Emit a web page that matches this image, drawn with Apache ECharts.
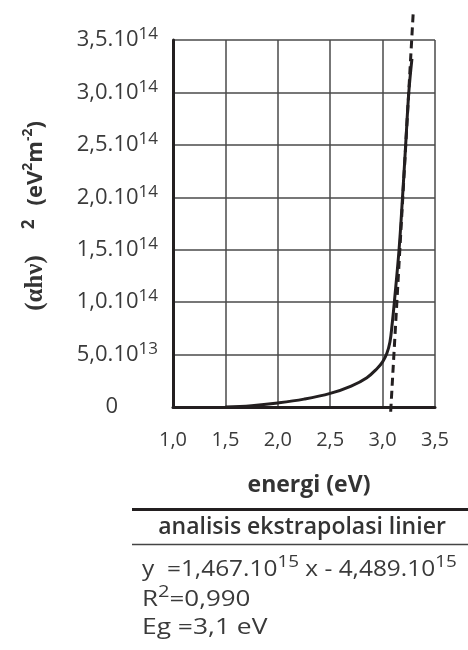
<!DOCTYPE html>
<html>
<head>
<meta charset="utf-8">
<script src="https://cdn.jsdelivr.net/npm/echarts@6/dist/echarts.min.js"></script>
<style>
html, body { margin: 0; padding: 0; background: #fff; }
#chart { width: 468px; height: 650px; }
</style>
</head>
<body>
<div id="chart"></div>
<script>
// data
var energi = [1.5, 1.75, 2.0, 2.25, 2.5, 2.7, 2.85, 2.95, 3.0, 3.04, 3.07, 3.09, 3.112, 3.157, 3.19, 3.22, 3.25, 3.28];
var alphaHv2 = [0, 1.2e12, 3.8e12, 7.5e12, 1.3e13, 2.0e13, 2.8e13, 3.7e13, 4.3e13, 5.1e13, 6.2e13, 7.8e13, 1.0e14, 1.5e14, 2.0e14, 2.5e14, 3.0e14, 3.32e14];
// linear extrapolation (dashed)
var fitEnergi = [3.077, 3.293];
var fitNilai = [-4.5e12, 3.775e14];

var xTickLabels = ['1,0', '1,5', '2,0', '2,5', '3,0', '3,5'];
var yTickBase = ['0', '5,0.10', '1,0.10', '1,5.10', '2,0.10', '2,5.10', '3,0.10', '3,5.10'];
var yTickExp = ['', '13', '14', '14', '14', '14', '14', '14'];

var ink = '#231f20';
var txt = '#3a3a3a';
var sans = '"Open Sans", sans-serif';

var myChart = echarts.init(document.getElementById('chart'));

var curve = energi.map(function (e, i) { return [e, alphaHv2[i]]; });
var fit = fitEnergi.map(function (e, i) { return [e, fitNilai[i]]; });

// superscript-capable rich styles for the results block
var richBlock = {
    b: { fontFamily: sans, fontSize: 22, fill: txt, lineHeight: 32, verticalAlign: 'middle' },
    s: { fontFamily: sans, fontSize: 17, fill: txt, lineHeight: 16, verticalAlign: 'top' }
};

var option = {
    animation: false,
    backgroundColor: '#fff',
    grid: { left: 173, top: 40, width: 262, height: 367 },
    xAxis: {
        type: 'value',
        min: 1,
        max: 3.5,
        interval: 0.5,
        axisLine: { lineStyle: { color: ink, width: 3 } },
        axisTick: { show: false },
        splitLine: { lineStyle: { color: '#4a4a4a', width: 1.5 } },
        axisLabel: {
            margin: 23,
            fontFamily: sans,
            fontSize: 20,
            color: txt,
            formatter: function (v) { return xTickLabels[Math.round((v - 1) / 0.5)]; }
        },
        name: 'energi (eV)',
        nameLocation: 'middle',
        nameGap: 67,
        nameTextStyle: {
            fontFamily: sans, fontSize: 23, fontWeight: 'bold', color: '#333',
            padding: [0, 0, 0, 10]
        }
    },
    yAxis: {
        type: 'value',
        min: 0,
        max: 3.5e14,
        interval: 5e13,
        axisLine: { show: true, lineStyle: { color: ink, width: 3 } },
        axisTick: { show: false },
        splitLine: { lineStyle: { color: '#4a4a4a', width: 1.5 } },
        axisLabel: {
            margin: 15,
            formatter: function (v) {
                var i = Math.round(v / 5e13);
                if (!yTickExp[i]) return '{z|' + yTickBase[i] + '}';
                return '{b|' + yTickBase[i] + '}{s|' + yTickExp[i] + '}';
            },
            rich: {
                b: { fontFamily: sans, fontSize: 22, color: txt, lineHeight: 28, verticalAlign: 'middle' },
                s: { fontFamily: sans, fontSize: 17, color: txt, lineHeight: 16, verticalAlign: 'top' },
                z: { fontFamily: sans, fontSize: 22, color: txt, lineHeight: 28, padding: [0, 40, 0, 0] }
            }
        }
    },
    series: [
        {
            type: 'line',
            data: curve,
            smooth: 0.4,
            symbol: 'none',
            lineStyle: { color: ink, width: 3 }
        },
        {
            type: 'line',
            data: fit,
            symbol: 'none',
            clip: false,
            lineStyle: { color: ink, width: 3, type: [8, 5] }
        }
    ],
    graphic: [
        {
            // y axis title, rotated
            type: 'text',
            x: 36, y: 216,
            rotation: Math.PI / 2,
            style: {
                text: '{a|(αhν)}{sa|2}{g|(eV}{se|2}{e|m}{se|-2}{e|)}',
                textAlign: 'center',
                textVerticalAlign: 'middle',
                rich: {
                    a: { fontFamily: '"Liberation Serif", serif', fontWeight: 'bold', fontSize: 25, fill: '#333', lineHeight: 30, verticalAlign: 'middle' },
                    sa: { fontFamily: sans, fontWeight: 'bold', fontSize: 17, fill: '#333', lineHeight: 16, verticalAlign: 'top', padding: [0, 0, 0, 26] },
                    g: { fontFamily: sans, fontWeight: 'bold', fontSize: 22, fill: '#333', lineHeight: 30, verticalAlign: 'middle', padding: [0, 0, 0, 14] },
                    e: { fontFamily: sans, fontWeight: 'bold', fontSize: 22, fill: '#333', lineHeight: 30, verticalAlign: 'middle' },
                    se: { fontFamily: sans, fontWeight: 'bold', fontSize: 14, fill: '#333', lineHeight: 14, verticalAlign: 'top' }
                }
            }
        },
        {
            type: 'line',
            shape: { x1: 132, y1: 509.5, x2: 468, y2: 509.5 },
            style: { stroke: ink, lineWidth: 3 }
        },
        {
            type: 'text',
            x: 302, y: 527,
            style: {
                text: 'analisis ekstrapolasi linier',
                font: '600 23px "Open Sans", sans-serif',
                fill: '#333',
                textAlign: 'center',
                textVerticalAlign: 'middle'
            }
        },
        {
            type: 'line',
            shape: { x1: 132, y1: 544.5, x2: 468, y2: 544.5 },
            style: { stroke: '#444', lineWidth: 1.5 }
        },
        {
            type: 'text',
            x: 142, y: 570,
            scaleX: 1.11,
            style: {
                text: '{b|y  =1,467.10}{s|15}{b| x - 4,489.10}{s|15}',
                textAlign: 'left',
                textVerticalAlign: 'middle',
                rich: richBlock
            }
        },
        {
            type: 'text',
            x: 142, y: 600,
            scaleX: 1.18,
            style: {
                text: '{b|R}{s|2}{b|=0,990}',
                textAlign: 'left',
                textVerticalAlign: 'middle',
                rich: richBlock
            }
        },
        {
            type: 'text',
            x: 142, y: 628,
            scaleX: 1.2,
            style: {
                text: 'Eg =3,1 eV',
                font: '22px "Open Sans", sans-serif',
                fill: txt,
                textAlign: 'left',
                textVerticalAlign: 'middle'
            }
        }
    ]
};

myChart.setOption(option);
</script>
</body>
</html>
